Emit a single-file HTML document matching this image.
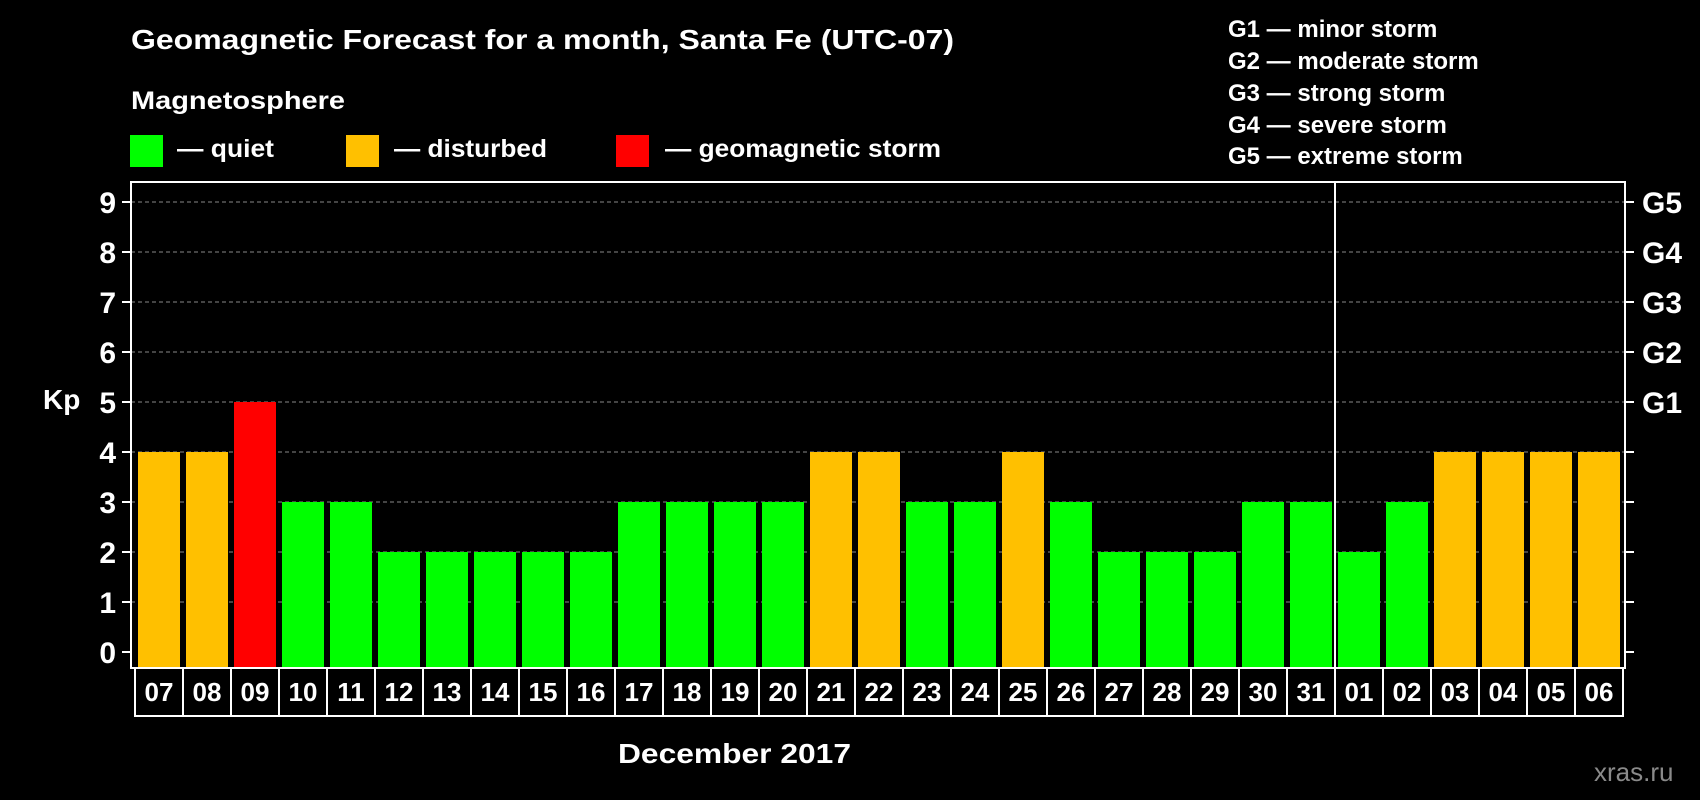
<!DOCTYPE html>
<html><head><meta charset="utf-8">
<style>
html,body{margin:0;padding:0;background:#000;}
svg{display:block;font-family:"Liberation Sans",Arial,sans-serif;font-weight:bold;}
</style></head>
<body>
<svg id="chart" width="1700" height="800" viewBox="0 0 1700 800" xmlns="http://www.w3.org/2000/svg">
<rect width="1700" height="800" fill="#000"/>
<text x="131" y="49" fill="#fff" font-size="28" textLength="823" lengthAdjust="spacingAndGlyphs">Geomagnetic Forecast for a month, Santa Fe (UTC-07)</text>
<text x="131" y="109" fill="#fff" font-size="25" textLength="214" lengthAdjust="spacingAndGlyphs">Magnetosphere</text>
<g>
<rect x="130" y="135" width="33" height="32" fill="#00ff00"/>
<text x="177" y="157" fill="#fff" font-size="25" textLength="97" lengthAdjust="spacingAndGlyphs">— quiet</text></g>
<g>
<rect x="346" y="135" width="33" height="32" fill="#ffc000"/>
<text x="394" y="157" fill="#fff" font-size="25" textLength="153" lengthAdjust="spacingAndGlyphs">— disturbed</text></g>
<g>
<rect x="616" y="135" width="33" height="32" fill="#ff0000"/>
<text x="665" y="157" fill="#fff" font-size="25" textLength="276" lengthAdjust="spacingAndGlyphs">— geomagnetic storm</text></g>
<g fill="#fff" font-size="24">
<text x="1228" y="37">G1 — minor storm</text>
<text x="1228" y="69">G2 — moderate storm</text>
<text x="1228" y="101">G3 — strong storm</text>
<text x="1228" y="133">G4 — severe storm</text>
<text x="1228" y="164">G5 — extreme storm</text>
</g>
<text x="43" y="409" fill="#fff" font-size="28">Kp</text>
<g id="grid"></g>
<g id="bars"></g>
<g id="axes"></g>
<g id="dates"></g>
<text x="618" y="763" fill="#fff" font-size="28" textLength="233" lengthAdjust="spacingAndGlyphs">December 2017</text>
<text x="1594" y="781" fill="#8a8a8a" font-size="26" font-weight="normal">xras.ru</text>
</svg>
<script>
const days = ["07","08","09","10","11","12","13","14","15","16","17","18","19","20","21","22","23","24","25","26","27","28","29","30","31","01","02","03","04","05","06"];
const kpValues = [4,4,5,3,3,2,2,2,2,2,3,3,3,3,4,4,3,3,4,3,2,2,2,3,3,2,3,4,4,4,4];
const yTicks = [0,1,2,3,4,5,6,7,8,9];
const gLabels = ["G1","G2","G3","G4","G5"];
const gLevels = [5,6,7,8,9];
const monthBreakIndex = 25;

const NS="http://www.w3.org/2000/svg";
const L=131,R=1625,T=182,B=668;
const y0=652, unit=50;
const yScale=v=>y0-v*unit;
const pitch=48, barW=42;
const xBar=i=>138+i*pitch;
function mk(tag,attrs,parent){const e=document.createElementNS(NS,tag);for(const k in attrs)e.setAttribute(k,attrs[k]);parent.appendChild(e);return e;}
const grid=document.getElementById('grid'),bars=document.getElementById('bars'),axes=document.getElementById('axes'),dates=document.getElementById('dates');
yTicks.forEach(v=>{
  if(v>0){const g=mk('line',{x1:L,x2:R,y1:yScale(v),y2:yScale(v),stroke:'#888','stroke-width':1,'stroke-dasharray':'4,3'},grid);
  
  }
  const t=mk('line',{x1:L-9,x2:L,y1:yScale(v),y2:yScale(v),stroke:'#fff','stroke-width':2},axes);
  
  
  const t2=mk('line',{x1:R,x2:R+9,y1:yScale(v),y2:yScale(v),stroke:'#fff','stroke-width':2},axes);
  
  
  const lb=mk('text',{x:116,y:yScale(v)+11,fill:'#fff','font-size':30,'text-anchor':'end'},axes);
  lb.textContent=v;
  
  
});
gLabels.forEach((g,i)=>{
  const lb=mk('text',{x:1642,y:yScale(gLevels[i])+11,fill:'#fff','font-size':30},axes);
  lb.textContent=g;
  
  
});
kpValues.forEach((v,i)=>{
  const c=v>=5?'#ff0000':(v>=4?'#ffc000':'#00ff00');
  const r=mk('rect',{x:xBar(i),y:yScale(v),width:barW,height:B-yScale(v),fill:c},bars);
  
  
});
const frame=mk('rect',{x:L,y:T,width:R-L,height:B-T,fill:'none',stroke:'#fff','stroke-width':2},axes);


const dv=mk('line',{x1:xBar(monthBreakIndex)-3,x2:xBar(monthBreakIndex)-3,y1:T,y2:716,stroke:'#fff','stroke-width':2},axes);


days.forEach((d,i)=>{
  const cx=135+i*pitch;
  const r=mk('rect',{x:cx,y:B,width:pitch,height:48,fill:'none',stroke:'#fff','stroke-width':2},dates);
  
  
  const t=mk('text',{x:cx+pitch/2,y:701,fill:'#fff','font-size':26,'text-anchor':'middle'},dates);
  t.textContent=d;
  
  
});
</script>
</body></html>
